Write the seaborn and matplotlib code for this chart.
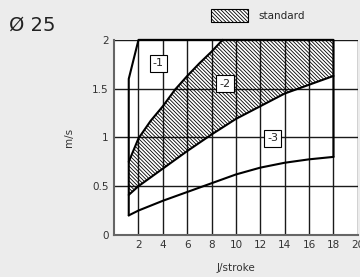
import numpy as np
import pandas as pd
import matplotlib
matplotlib.use("Agg")
import matplotlib.pyplot as plt
import matplotlib.patches as mpatches
import seaborn as sns

# data (J/stroke vs m/s)
outer_x = [1.2, 1.2, 2, 18, 18]
outer_y = [0.2, 1.6, 2.0, 2.0, 0.8]

low_x = [1.2, 2, 4, 6, 8, 10, 12, 14, 16, 18]
low_y = [0.2, 0.25, 0.35, 0.44, 0.53, 0.62, 0.69, 0.74, 0.775, 0.8]

std_up_x = [1.2, 1.6, 2, 3, 4, 5, 6, 7, 8, 8.9, 18]
std_up_y = [0.75, 0.87, 0.99, 1.17, 1.32, 1.49, 1.63, 1.76, 1.88, 2.0, 2.0]

std_low_x = [1.2, 2, 4, 6, 8, 10, 12, 14, 16, 18]
std_low_y = [0.41, 0.5, 0.68, 0.86, 1.03, 1.19, 1.32, 1.45, 1.54, 1.63]

curve_labels = ["-1", "-2", "-3"]
label_x = [3.63, 9.09, 13.0]
label_y = [1.76, 1.55, 0.99]

x_ticks = [2, 4, 6, 8, 10, 12, 14, 16, 18, 20]
y_ticks = [0, 0.5, 1, 1.5, 2]
y_ticklabels = ["0", "0.5", "1", "1.5", "2"]

sns.set_theme(style="white")
plt.rcParams["font.family"] = ["DejaVu Sans"]
plt.rcParams["hatch.linewidth"] = 0.6

bg = "#ececec"
fig = plt.figure(figsize=(3.6, 2.77), dpi=100, facecolor=bg)
ax = fig.add_axes([0.317, 0.152, 0.677, 0.704])
ax.set_facecolor("white")

# grid
ax.set_axisbelow(True)
ax.grid(True, color="#1a1a1a", linewidth=1.0)

hatch = "\\" * 9
ax.fill(np.r_[std_up_x, std_low_x[::-1]], np.r_[std_up_y, std_low_y[::-1]],
        facecolor="none", edgecolor="black", linewidth=0, hatch=hatch, zorder=2)

lines = [
    pd.DataFrame({"x": outer_x, "y": outer_y}),
    pd.DataFrame({"x": low_x, "y": low_y}),
    pd.DataFrame({"x": std_up_x[:-1], "y": std_up_y[:-1]}),
    pd.DataFrame({"x": std_low_x, "y": std_low_y}),
]
for df in lines:
    sns.lineplot(data=df, x="x", y="y", sort=False, estimator=None,
                 color="black", linewidth=1.5, ax=ax, clip_on=False, zorder=3)

for lab, lx, ly in zip(curve_labels, label_x, label_y):
    ax.text(lx, ly, lab, ha="center", va="center", fontsize=8, color="#222222",
            zorder=5, bbox=dict(boxstyle="square,pad=0.3", fc="white",
                                ec="black", lw=0.8))

ax.set_xlim(0, 20)
ax.set_ylim(0, 2)
ax.set_xticks(x_ticks)
ax.set_yticks(y_ticks)
ax.set_yticklabels(y_ticklabels)
ax.tick_params(axis="both", length=0, labelsize=7.5, labelcolor="#333333", pad=4)

for s in ["top", "right"]:
    ax.spines[s].set_visible(False)
for s in ["left", "bottom"]:
    ax.spines[s].set_color("#666666")
    ax.spines[s].set_linewidth(1.5)

ax.set_xlabel("J/stroke", fontsize=7.5, color="#333333", labelpad=9)
ax.set_ylabel("m/s", fontsize=7.5, color="#333333", labelpad=13)

fig.text(0.025, 0.89, "Ø 25", fontsize=14, color="#222222", va="baseline")

handle = mpatches.Patch(facecolor="white", edgecolor="black", hatch=hatch,
                        linewidth=0.8, label="standard")
fig.legend(handles=[handle], loc="center left", bbox_to_anchor=(0.585, 0.945),
           frameon=False, fontsize=7.5, handlelength=3.6, handleheight=1.5,
           handletextpad=1.0, borderpad=0, borderaxespad=0)

fig.savefig("out.png", dpi=100, facecolor=bg)
